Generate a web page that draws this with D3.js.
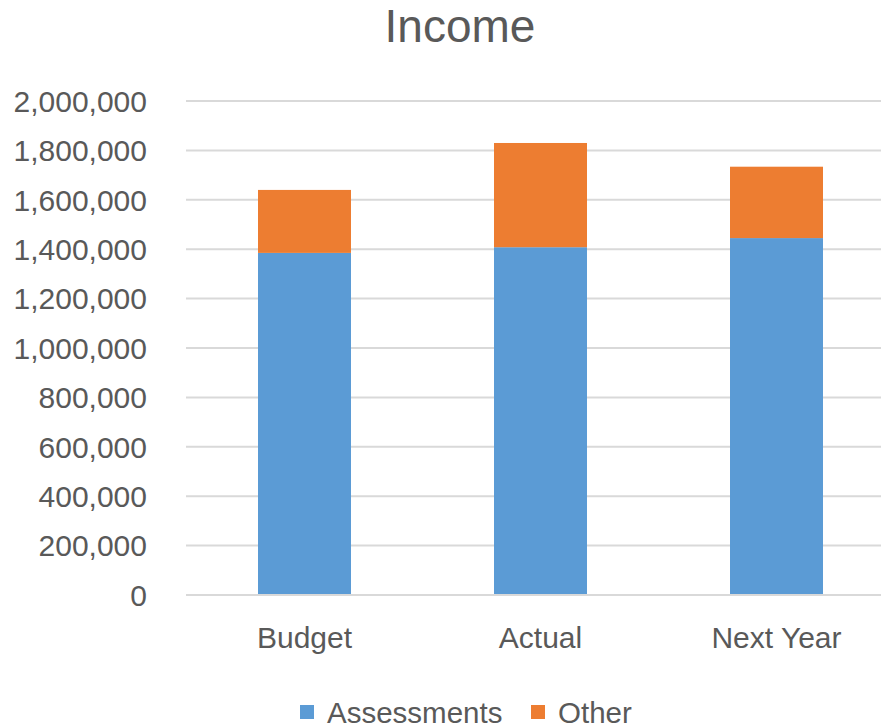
<!DOCTYPE html>
<html><head><meta charset="utf-8">
<script src="https://cdn.jsdelivr.net/npm/d3@7"></script>
<style>body{margin:0;background:#fff}svg{display:block}text{font-family:"Liberation Sans",Arial,sans-serif;fill:#595959}</style>
</head><body><svg id="c" width="881" height="728"></svg>
<script>
const categories = ["Budget", "Actual", "Next Year"];
const assessments = [1385000, 1408000, 1445000];
const other = [255000, 422000, 289000];
const seriesNames = ["Assessments", "Other"];
const seriesColors = ["#5b9bd5", "#ed7d31"];
const yTicks = [0,200000,400000,600000,800000,1000000,1200000,1400000,1600000,1800000,2000000];

const svg = d3.select("#c");
const x = d3.scaleBand().domain(categories).range([186.5, 894.5]).paddingInner(0.606).paddingOuter(0.303);
const y = d3.scaleLinear().domain([0, 2000000]).range([595, 101]);

svg.append("text").attr("x", 460).attr("y", 42).attr("text-anchor","middle").attr("font-size", 46).text("Income");

// gridlines
svg.append("g").selectAll("line").data(yTicks).join("line")
  .attr("x1", 186).attr("x2", 881).attr("y1", d=>y(d)).attr("y2", d=>y(d))
  .attr("stroke", "#d9d9d9").attr("stroke-width", 2);

// y labels
const fmt = d3.format(",");
svg.append("g").selectAll("text").data(yTicks).join("text")
  .attr("x", 147).attr("y", d=>y(d)).attr("dy","0.36em").attr("text-anchor","end").attr("font-size",30)
  .text(d=>fmt(d));

const rows = categories.map((c,i)=>({cat:c, Assessments:assessments[i], Other:other[i]}));
const stack = d3.stack().keys(seriesNames)(rows);
svg.append("g").selectAll("g").data(stack).join("g").attr("fill",(d,i)=>seriesColors[i])
  .selectAll("rect").data(d=>d).join("rect")
  .attr("x", d=>x(d.data.cat)).attr("width", x.bandwidth())
  .attr("y", d=>y(d[1])).attr("height", d=>y(d[0])-y(d[1]));

// redraw baseline over bars
svg.append("line").attr("x1",186).attr("x2",881).attr("y1",y(0)).attr("y2",y(0)).attr("stroke","#d9d9d9").attr("stroke-width",2);

// x labels
svg.append("g").selectAll("text").data(categories).join("text")
  .attr("x", d=>x(d)+x.bandwidth()/2).attr("y", 648).attr("text-anchor","middle").attr("font-size",30).text(d=>d);

// legend
const legX = [300, 531];
const lg = svg.append("g").selectAll("g").data(seriesNames).join("g")
  .attr("transform",(d,i)=>`translate(${legX[i]},705)`);
lg.append("rect").attr("width",14).attr("height",14).attr("fill",(d,i)=>seriesColors[i]);
lg.append("text").attr("x",27).attr("y",7).attr("dy","0.36em").attr("font-size",29.5).text(d=>d);
</script></body></html>
